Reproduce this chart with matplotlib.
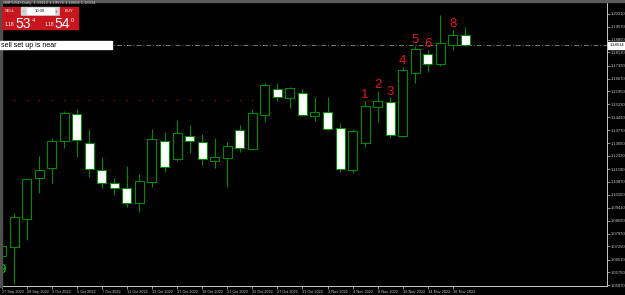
import numpy as np
import pandas as pd
import matplotlib
matplotlib.use("Agg")
import matplotlib.pyplot as plt
from matplotlib.patches import Rectangle

plt.rcParams['font.family'] = ['Liberation Sans', 'DejaVu Sans']

# GBPUSD daily candles, 27 Sep - 17 Nov 2022
dates = pd.bdate_range("2022-09-27", periods=38)
date_labels = [f"{d.day} {d:%b %Y}" for d in dates]

opens = [1.06714, 1.07235, 1.08806, 1.11106, 1.11634, 1.13182, 1.14663, 1.13036,
         1.11522, 1.10792, 1.10545, 1.09670, 1.10882, 1.13165, 1.12172, 1.13463,
         1.13126, 1.12043, 1.12195, 1.13782, 1.12733, 1.14607, 1.16066, 1.15561,
         1.15841, 1.14585, 1.14775, 1.13878, 1.11538, 1.13036, 1.15089, 1.15336,
         1.13446, 1.16963, 1.18046, 1.17485, 1.18568, 1.19095]
highs = [1.08357, 1.09143, 1.11106, 1.12341, 1.13317, 1.14865, 1.14944, 1.13822,
         1.12251, 1.11106, 1.11780, 1.11314, 1.13822, 1.13653, 1.14343, 1.14063,
         1.13558, 1.13350, 1.13126, 1.14063, 1.14960, 1.16419, 1.16436, 1.16211,
         1.16082, 1.15634, 1.15650, 1.14192, 1.13822, 1.15409, 1.15970, 1.15617,
         1.17333, 1.18512, 1.18270, 1.20234, 1.19392, 1.19544]
lows = [1.06489, 1.05143, 1.07611, 1.10231, 1.10826, 1.12789, 1.12251, 1.11129,
        1.10545, 1.10136, 1.09479, 1.09199, 1.10568, 1.11443, 1.12043, 1.12509,
        1.11819, 1.11667, 1.10568, 1.12531, 1.12700, 1.14248, 1.15426, 1.15000,
        1.14568, 1.14287, 1.13810, 1.11443, 1.11398, 1.12845, 1.14248, 1.13317,
        1.13406, 1.16436, 1.17053, 1.17373, 1.18270, 1.18504]
closes = [1.07275, 1.08885, 1.11017, 1.11538, 1.13165, 1.14719, 1.13221, 1.11578,
          1.10826, 1.10545, 1.09704, 1.10938, 1.13277, 1.11723, 1.13597, 1.13182,
          1.12155, 1.12284, 1.12885, 1.12756, 1.14719, 1.16290, 1.15617, 1.16122,
          1.14641, 1.14775, 1.13855, 1.11578, 1.13726, 1.15112, 1.15409, 1.13519,
          1.17148, 1.18326, 1.17485, 1.18646, 1.19129, 1.18534]

price_ticks = [1.05070, 1.05790, 1.06510, 1.07250, 1.07970, 1.08690, 1.09410, 1.10150,
               1.10870, 1.11590, 1.12330, 1.13050, 1.13770, 1.14490, 1.15230, 1.15950,
               1.16670, 1.17390, 1.18130, 1.18850, 1.19570, 1.20310, 1.21030]

# red indicator dots and wave count labels
dot_bars = list(range(1, 21))
dot_level = 1.15465
wave_bars = [29, 30, 31, 32, 33, 34, 36]
wave_labels = ["1", "2", "3", "4", "5", "6", "8"]

bid = 1.18534
title = "GBPUSD,Daily  1.19112 1.19576 1.18504 1.18534"

green = '#008c00'
grey = '#c8c8c8'

fig = plt.figure(figsize=(6.25, 2.95), dpi=100, facecolor='black')
ax = fig.add_axes([0, 9.5/295, 606.5/625, 285.5/295], facecolor='black')

x = np.arange(len(opens))
o, h, l, c = map(np.array, (opens, highs, lows, closes))
up = c >= o

ax.vlines(x, l, h, color=green, lw=0.8, zorder=2)
ax.bar(x, np.abs(c - o), bottom=np.minimum(o, c), width=0.72,
       color=np.where(up, 'black', 'white'), edgecolor=green, linewidth=0.8, zorder=3)

ax.plot(dot_bars, [dot_level]*len(dot_bars), ls='none', marker='s', ms=0.9,
        mew=0, color='#b40000', zorder=1)

ax.axhline(bid, color='#6a806a', lw=0.7, ls=(0, (5, 2, 1, 2)), zorder=1)

for b, t in zip(wave_bars, wave_labels):
    ax.annotate(t, (b, h[b]), xytext=(0, 2), textcoords='offset points',
                ha='center', va='baseline', color='#e8141c', fontsize=9.5, zorder=5)

ax.text(0.009, 0.055, "9", transform=ax.transAxes, ha='right', va='center',
        color='#00e000', fontsize=9.5)

ax.set_xlim(-0.12, 48.25)
ax.set_ylim(1.05059, 1.21075)

ax.set_xticks(x[::2])
ax.set_xticklabels(date_labels[::2], ha='left')
ax.yaxis.tick_right()
ax.set_yticks(price_ticks)
ax.set_yticklabels([f"{v:.5f}" for v in price_ticks])
ax.tick_params(axis='x', length=2.5, width=0.5, color=grey, labelcolor=grey,
               labelsize=2.8, pad=1)
ax.tick_params(axis='y', length=2, width=0.5, color=grey, labelcolor=grey,
               labelsize=3.0, pad=1.2)

for s in ['top', 'left']:
    ax.spines[s].set_visible(False)
for s in ['bottom', 'right']:
    ax.spines[s].set_color(grey)
    ax.spines[s].set_linewidth(0.7)

ax.annotate(f"{bid:.5f}", (1, bid), xycoords=('axes fraction', 'data'),
            xytext=(2.2, 0), textcoords='offset points', ha='left', va='center',
            fontsize=3.0, color='black',
            bbox=dict(boxstyle='square,pad=0.35', fc='white', ec='white'))

# overlay in pixel coords for the trading panel and comment box
ov = fig.add_axes([0, 0, 1, 1], facecolor='none')
ov.set_xlim(0, 625)
ov.set_ylim(295, 0)
ov.axis('off')

ov.add_patch(Rectangle((0, 0), 625, 1.5, color='#5a5a5a'))
ov.add_patch(Rectangle((0, 0), 1.5, 287, color='#505050'))

ov.text(3, 3, title, fontsize=3, color=grey, va='center', ha='left')

red = '#c8161e'
ov.add_patch(Rectangle((2, 7.3), 17.5, 8, color=red))
ov.text(9.8, 11.3, "SELL", fontsize=3, color='white', ha='center', va='center')
ov.add_patch(Rectangle((20.5, 7.3), 39, 8, color='#d4d4d4'))
ov.add_patch(Rectangle((26.5, 8.3), 27, 6, color='white'))
ov.text(23.3, 11.3, "-", fontsize=3.5, color='#606060', ha='center', va='center')
ov.text(56.7, 11.3, "+", fontsize=3.5, color='#606060', ha='center', va='center')
ov.text(40, 11.3, "10.00", fontsize=3, color='black', ha='center', va='center')
ov.add_patch(Rectangle((60, 7.3), 17.5, 8, color=red))
ov.text(68.7, 11.3, "BUY", fontsize=3, color='white', ha='center', va='center')

ov.add_patch(Rectangle((2, 15.6), 37.5, 13.8, color=red))
ov.add_patch(Rectangle((40.5, 15.6), 37, 13.8, color=red))
ov.text(5, 26.3, "1.18", fontsize=3.5, color='white', ha='left', va='baseline')
ov.text(15.5, 28.3, "53", fontsize=10, color='white', ha='left', va='baseline')
ov.text(32, 22, "4", fontsize=4, color='white', ha='left', va='baseline')
ov.text(45, 26.3, "1.18", fontsize=3.5, color='white', ha='left', va='baseline')
ov.text(54.5, 28.3, "54", fontsize=10, color='white', ha='left', va='baseline')
ov.text(70.7, 22, "0", fontsize=4, color='white', ha='left', va='baseline')

ov.add_patch(Rectangle((0, 40.7), 111.7, 8.6, color='white'))
ov.text(1, 45.2, "sell set up is near", fontsize=5, color='black', ha='left', va='center')

fig.savefig("out.png", dpi=100, facecolor='black')
